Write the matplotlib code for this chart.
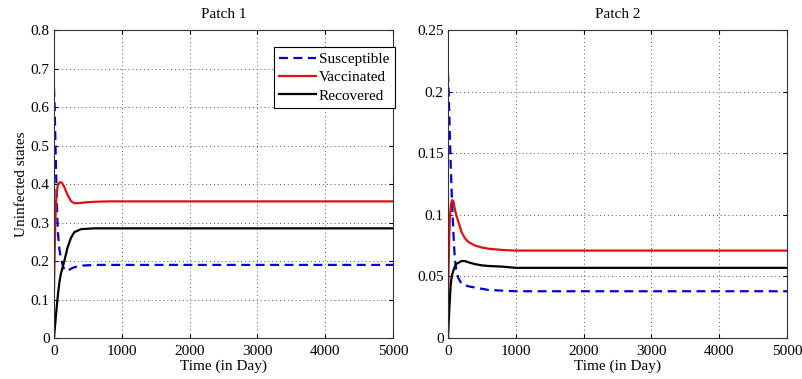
import matplotlib
matplotlib.use("Agg")
import matplotlib.pyplot as plt

plt.rcParams['font.family'] = ['Liberation Serif', 'DejaVu Serif']
plt.rcParams['font.size'] = 11

# time points (days), shared by all series of a patch
t = [0, 10, 20, 30, 40, 50, 60, 80, 100, 120, 150, 200, 250, 300, 400,
     500, 600, 800, 1000, 2000, 5000]

# Patch 1
s1 = [0.65, 0.60, 0.52, 0.44, 0.37, 0.31, 0.27, 0.23, 0.21, 0.195, 0.178,
      0.174, 0.180, 0.184, 0.188, 0.189, 0.19, 0.19, 0.19, 0.19, 0.19]
v1 = [0.12, 0.22, 0.30, 0.35, 0.375, 0.39, 0.398, 0.404, 0.405, 0.403, 0.393,
      0.372, 0.356, 0.350, 0.351, 0.353, 0.354, 0.355, 0.355, 0.355, 0.355]
r1 = [0.0, 0.02, 0.04, 0.06, 0.08, 0.098, 0.115, 0.145, 0.165, 0.18, 0.198,
      0.235, 0.26, 0.275, 0.283, 0.284, 0.285, 0.285, 0.285, 0.285, 0.285]

# Patch 2
s2 = [0.215, 0.20, 0.18, 0.16, 0.14, 0.125, 0.11, 0.085, 0.065, 0.056, 0.049,
      0.044, 0.043, 0.042, 0.041, 0.040, 0.039, 0.0385, 0.038, 0.038, 0.038]
v2 = [0.03, 0.06, 0.085, 0.10, 0.107, 0.110, 0.112, 0.111, 0.105, 0.100, 0.095,
      0.086, 0.081, 0.078, 0.075, 0.0735, 0.0725, 0.0715, 0.071, 0.071, 0.071]
r2 = [0.0, 0.012, 0.024, 0.034, 0.043, 0.048, 0.051, 0.055, 0.058, 0.060, 0.061,
      0.0625, 0.0625, 0.0615, 0.060, 0.059, 0.0585, 0.058, 0.057, 0.057, 0.057]

xticks = [0, 1000, 2000, 3000, 4000, 5000]
yticks1 = [0, 0.1, 0.2, 0.3, 0.4, 0.5, 0.6, 0.7, 0.8]
ylabels1 = ['0', '0.1', '0.2', '0.3', '0.4', '0.5', '0.6', '0.7', '0.8']
yticks2 = [0, 0.05, 0.1, 0.15, 0.2, 0.25]
ylabels2 = ['0', '0.05', '0.1', '0.15', '0.2', '0.25']

fig = plt.figure(figsize=(8.02, 3.79), dpi=100)
ax1 = fig.add_axes([0.0673, 0.108, 0.4227, 0.8127])
ax2 = fig.add_axes([0.5586, 0.108, 0.4227, 0.8127])

def style(ax, yt, yl, title):
    ax.set_xlim(0, 5000)
    ax.set_ylim(yt[0], yt[-1])
    ax.set_xticks(xticks)
    ax.set_xticklabels([str(x) for x in xticks])
    ax.set_yticks(yt)
    ax.set_yticklabels(yl)
    ax.grid(True, color='#555555', linestyle=(0, (1, 3)), linewidth=0.7)
    ax.tick_params(direction='in', length=3, top=True, right=True, pad=3)
    ax.tick_params(axis='x', pad=5)
    for sp in ax.spines.values():
        sp.set_linewidth(0.8)
        sp.set_color('#333333')
    ax.set_title(title, fontsize=11, pad=9)
    ax.set_xlabel('Time (in Day)', labelpad=1)

ax1.plot(t, s1, color='#0000dd', linestyle=(0, (4, 2.5)), linewidth=1.6, label='Susceptible')
ax1.plot(t, v1, color='#e01010', linewidth=1.6, label='Vaccinated')
ax1.plot(t, r1, color='black', linewidth=1.6, label='Recovered')
style(ax1, yticks1, ylabels1, 'Patch 1')
ax1.set_ylabel('Uninfected states', labelpad=2)
leg = ax1.legend(loc='upper right', bbox_to_anchor=(1.005, 0.945), borderaxespad=0,
                 fancybox=False, framealpha=1, edgecolor='black', handlelength=2.4,
                 handletextpad=0.2, labelspacing=0.3, borderpad=0.35)
leg.get_frame().set_linewidth(0.8)

ax2.plot(t, s2, color='#0000dd', linestyle=(0, (4, 2.5)), linewidth=1.6)
ax2.plot(t, v2, color='#e01010', linewidth=1.6)
ax2.plot(t, r2, color='black', linewidth=1.6)
style(ax2, yticks2, ylabels2, 'Patch 2')

fig.savefig('out.png', dpi=100)
